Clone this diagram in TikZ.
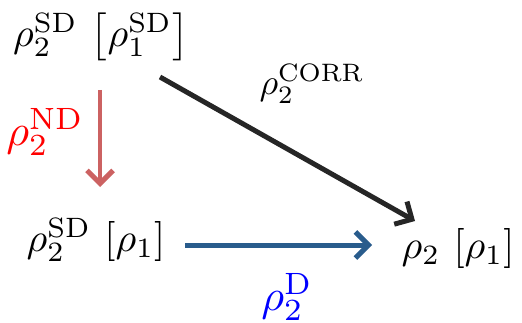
\documentclass[tikz,border=0pt]{standalone}
\usetikzlibrary{arrows.meta,calc}
\definecolor{arrred}{RGB}{204,98,98}
\definecolor{arrblue}{RGB}{41,92,140}
\definecolor{arrblack}{RGB}{38,38,38}
\tikzset{
  term/.style={inner sep=0pt, scale=4},
  biglabel/.style={inner sep=0pt, scale=4.4},
  midlabel/.style={inner sep=0pt, scale=3.6},
  conn/.style={line width=5pt, -{Straight Barb[length=13pt,width=26pt,line width=5pt]}},
}
\begin{document}
\begin{tikzpicture}[x=1pt,y=1pt]
\useasboundingbox (0,0) rectangle (522,322);
\node[term] (A) at (101,285) {$\rho_2^{\mathrm{SD}}\,\left[\rho_1^{\mathrm{SD}}\right]$};
\node[term] (B) at (96,82) {$\rho_2^{\mathrm{SD}}\,\left[\rho_1\right]$};
\node[term] (C) at (458,74) {$\rho_2\,\left[\rho_1\right]$};
\node[biglabel, text=red] (lnd) at (45,190) {$\rho_2^{\mathrm{ND}}$};
\node[biglabel, text=blue] (ld) at (287,25) {$\rho_2^{\mathrm{D}}$};
\node[midlabel] (lcorr) at (312,238) {$\rho_2^{\mathrm{CORR}}$};
\draw[conn, arrred, line width=4pt] ([shift={(-1,-53)}]A.center) -- ([shift={(4,53)}]B.center);
\draw[conn, arrblack] ([shift={(59,-40)}]A.center) -- ([shift={(-43,27)}]C.center);
\draw[conn, arrblue] ([shift={(89,-5)}]B.center) -- ([shift={(-86,3)}]C.center);
\end{tikzpicture}
\end{document}
